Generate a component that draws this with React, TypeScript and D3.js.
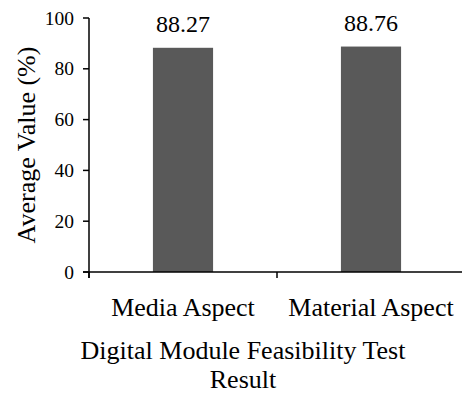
import React from "react";
import * as d3 from "d3";

const categories = ["Media Aspect", "Material Aspect"];
const values = [88.27, 88.76];
const yTicks = [0, 20, 40, 60, 80, 100];
const titleLines = ["Digital Module Feasibility Test", "Result"];
const yLabel = "Average Value (%)";

const W = 462;
const H = 394;
const font = "'Liberation Serif', 'Times New Roman', serif";

export default function App() {
  const x0 = 89, x1 = 465, yTop = 18, yBot = 272;
  const x = d3.scaleBand<string>().domain(categories).range([x0, x1]).paddingInner(0).paddingOuter(0);
  const y = d3.scaleLinear().domain([0, 100]).range([yBot, yTop]);
  const barW = x.bandwidth() * 0.32;
  const bounds = [x0, ...categories.map((c) => (x(c) as number) + x.bandwidth())];

  return (
    <svg
      width={W}
      height={H}
      style={{ position: "absolute", left: 0, top: 0, background: "#fff" }}
      fontFamily={font}
    >
      {categories.map((c, i) => {
        const cx = (x(c) as number) + x.bandwidth() / 2;
        return (
          <g key={c}>
            <rect x={cx - barW / 2} y={y(values[i])} width={barW} height={yBot - y(values[i])} fill="#595959" />
            <text x={cx} y={y(values[i]) - 16} textAnchor="middle" fontSize={24} fill="#000">
              {values[i].toFixed(2)}
            </text>
            <text x={cx} y={316} textAnchor="middle" fontSize={26} fill="#000">
              {c}
            </text>
          </g>
        );
      })}
      {/* y axis */}
      <line x1={x0} x2={x0} y1={yTop} y2={yBot + 6} stroke="#000" strokeWidth={1.5} />
      {yTicks.map((t) => (
        <g key={t}>
          <line x1={x0 - 6} x2={x0} y1={y(t)} y2={y(t)} stroke="#000" strokeWidth={1.5} />
          <text x={74} y={y(t) + 6.5} textAnchor="end" fontSize={19.5} fill="#000">
            {t}
          </text>
        </g>
      ))}
      {/* x axis */}
      <line x1={x0 - 6} x2={x1} y1={yBot} y2={yBot} stroke="#000" strokeWidth={1.5} />
      {bounds.map((b, i) => (
        <line key={i} x1={b} x2={b} y1={yBot} y2={yBot + 6} stroke="#000" strokeWidth={1.5} />
      ))}
      <text
        transform={`translate(35, ${(yTop + yBot) / 2}) rotate(-90)`}
        textAnchor="middle"
        fontSize={26}
        fill="#000"
      >
        {yLabel}
      </text>
      {titleLines.map((l, i) => (
        <text key={i} x={243} y={359 + i * 29} textAnchor="middle" fontSize={26} fill="#000">
          {l}
        </text>
      ))}
    </svg>
  );
}
